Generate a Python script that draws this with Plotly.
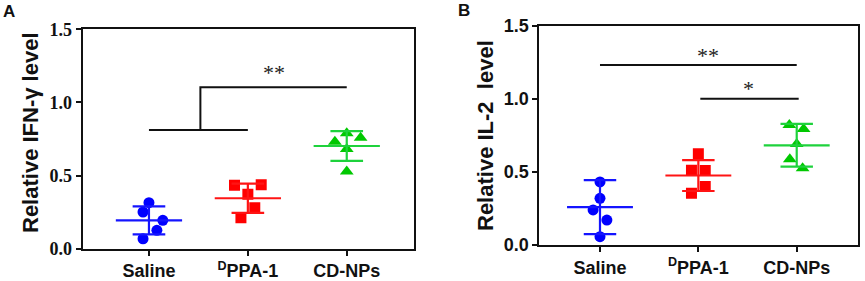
import plotly.graph_objects as go

W, H = 865, 281

categories = ["Saline", "<sup>D</sup>PPA-1", "CD-NPs"]
y_ticks = [0.0, 0.5, 1.0, 1.5]
y_tick_labels = ["0.0", "0.5", "1.0", "1.5"]

# Panel A: Relative IFN-gamma level
ifn_saline = [0.315, 0.251, 0.194, 0.126, 0.068]
ifn_dppa = [0.434, 0.438, 0.372, 0.280, 0.212]
ifn_cdnps = [0.732, 0.789, 0.759, 0.682, 0.527]
ifn_mean = [0.194, 0.345, 0.702]
ifn_sd = [0.096, 0.100, 0.102]

# Panel B: Relative IL-2 level
il2_saline = [0.432, 0.320, 0.240, 0.171, 0.057]
il2_dppa = [0.625, 0.512, 0.510, 0.400, 0.354]
il2_cdnps = [0.822, 0.795, 0.692, 0.587, 0.525]
il2_mean = [0.260, 0.476, 0.683]
il2_sd = [0.185, 0.106, 0.146]

# significance annotations
sig_a_low = 0.811
sig_a_high = 1.103
sig_a_label = "**"
sig_b_levels = [1.233, 1.002]
sig_b_labels = ["**", "*"]

# horizontal jitter of points (category units)
jit_a = [[0.0, -0.06, 0.14, 0.08, -0.06],
         [-0.135, 0.135, 0.0, 0.07, -0.07],
         [-0.12, 0.0, 0.14, 0.0, 0.0]]
jit_b = [[0.0, 0.0, -0.07, 0.07, 0.0],
         [0.0, -0.07, 0.07, 0.07, -0.07],
         [-0.075, 0.07, 0.0, -0.07, 0.06]]

marker_colors = ["#0000FF", "#FF0000", "#00C800"]
line_colors = ["#1414FF", "#FF1414", "#1ED23C"]
symbols = ["circle", "square", "triangle-up"]
msizes = [11, 11, 12]

fig = go.Figure()

def add_panel(groups, means, sds, jit, xa, ya):
    for i, vals in enumerate(groups):
        xs = [i + j for j in jit[i]]
        fig.add_trace(go.Scatter(x=xs, y=vals, mode="markers", xaxis=xa, yaxis=ya,
                                 marker=dict(symbol=symbols[i], size=msizes[i], color=marker_colors[i],
                                             line=dict(width=0)),
                                 showlegend=False, hoverinfo="skip"))
        m, s = means[i], sds[i]
        lc = line_colors[i]
        fig.add_trace(go.Scatter(x=[i - 0.335, i + 0.335], y=[m, m], mode="lines", xaxis=xa, yaxis=ya,
                                 line=dict(color=lc, width=2.2), showlegend=False, hoverinfo="skip"))
        fig.add_trace(go.Scatter(x=[i, i, None, i - 0.165, i + 0.165, None, i - 0.165, i + 0.165],
                                 y=[m - s, m + s, None, m + s, m + s, None, m - s, m - s],
                                 mode="lines", xaxis=xa, yaxis=ya,
                                 line=dict(color=lc, width=2.2), showlegend=False, hoverinfo="skip"))

add_panel([ifn_saline, ifn_dppa, ifn_cdnps], ifn_mean, ifn_sd, jit_a, "x", "y")
add_panel([il2_saline, il2_dppa, il2_cdnps], il2_mean, il2_sd, jit_b, "x2", "y2")

fig.add_trace(go.Scatter(x=[0, 1, None, 0.52, 0.52, 2.0], y=[sig_a_low, sig_a_low, None, sig_a_low, sig_a_high, sig_a_high],
                         mode="lines", xaxis="x", yaxis="y", line=dict(color="#111111", width=2),
                         showlegend=False, hoverinfo="skip"))
fig.add_trace(go.Scatter(x=[0, 2, None, 1.02, 2.02], y=[sig_b_levels[0], sig_b_levels[0], None, sig_b_levels[1], sig_b_levels[1]],
                         mode="lines", xaxis="x2", yaxis="y2", line=dict(color="#111111", width=2),
                         showlegend=False, hoverinfo="skip"))

serif = "Liberation Serif, Times New Roman, serif"
sans = "Liberation Sans, Arial, sans-serif"

axis_common = dict(showgrid=False, zeroline=False, showline=True, linecolor="#111111", linewidth=2,
                   mirror=True, ticks="outside", ticklen=5, tickwidth=2, tickcolor="#111111",
                   automargin=False, fixedrange=True)

fig.update_layout(
    width=W, height=H, margin=dict(l=0, r=0, t=0, b=0, pad=0, autoexpand=False),
    paper_bgcolor="white", plot_bgcolor="white",
    xaxis=dict(domain=[82.7 / W, 414 / W], range=[-0.67, 2.68], tickvals=[0, 1, 2],
               ticktext=["<b>" + c + "</b>" for c in categories],
               tickfont=dict(family=sans, size=18, color="#111111"), anchor="y", **axis_common),
    yaxis=dict(domain=[(H - 248.7) / H, (H - 29.3) / H], range=[0, 1.5], tickvals=y_ticks,
               ticktext=["<b>" + t + "</b>" for t in y_tick_labels],
               tickfont=dict(family=serif, size=18, color="#111111"), anchor="x", **axis_common),
    xaxis2=dict(domain=[539.3 / W, 857.7 / W], range=[-0.617, 2.62], tickvals=[0, 1, 2],
                ticktext=["<b>" + c + "</b>" for c in categories],
                tickfont=dict(family=sans, size=18, color="#111111"), anchor="y2", **axis_common),
    yaxis2=dict(domain=[(H - 245) / H, (H - 26) / H], range=[0, 1.5], tickvals=y_ticks,
                ticktext=["<b>" + t + "</b>" for t in y_tick_labels],
                tickfont=dict(family=sans, size=18, color="#111111"), anchor="x2", **axis_common),
)

ann = []
ann.append(dict(x=1.26, y=1.204, xref="x", yref="y", text=sig_a_label, showarrow=False,
                font=dict(family=serif, size=22, color="#222222"), xanchor="center", yanchor="middle"))
ann.append(dict(x=1.1, y=1.30, xref="x2", yref="y2", text=sig_b_labels[0], showarrow=False,
                font=dict(family=serif, size=22, color="#222222"), xanchor="center", yanchor="middle"))
ann.append(dict(x=1.51, y=1.07, xref="x2", yref="y2", text=sig_b_labels[1], showarrow=False,
                font=dict(family=serif, size=22, color="#222222"), xanchor="center", yanchor="middle"))
ann.append(dict(x=30 / W, y=(H - 133) / H, xref="paper", yref="paper", text="<b>Relative IFN-γ level</b>",
                textangle=-90, showarrow=False, font=dict(family=sans, size=22, color="#111111"),
                xanchor="center", yanchor="middle"))
ann.append(dict(x=485 / W, y=(H - 136) / H, xref="paper", yref="paper", text="<b>Relative IL-2  level</b>",
                textangle=-90, showarrow=False, font=dict(family=sans, size=22, color="#111111"),
                xanchor="center", yanchor="middle"))
ann.append(dict(x=9 / W, y=(H - 12) / H, xref="paper", yref="paper", text="<b>A</b>", showarrow=False,
                font=dict(family=sans, size=17, color="#111111"), xanchor="center", yanchor="middle"))
ann.append(dict(x=463.5 / W, y=(H - 11) / H, xref="paper", yref="paper", text="<b>B</b>", showarrow=False,
                font=dict(family=sans, size=17, color="#111111"), xanchor="center", yanchor="middle"))
fig.update_layout(annotations=ann)

fig.write_html("out.html", config={"displayModeBar": False},
               post_script="document.body.style.margin='0px';document.body.style.overflow='hidden';")
